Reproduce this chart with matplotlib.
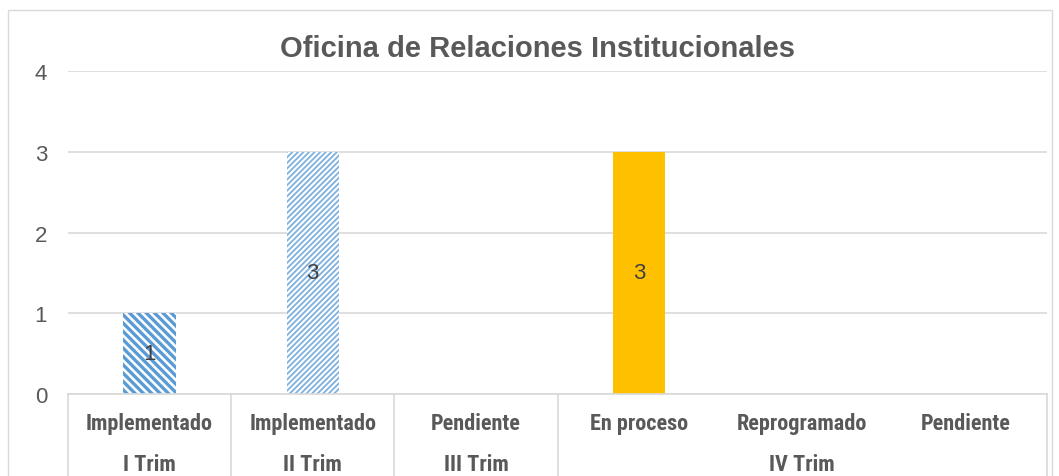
import matplotlib
matplotlib.use("Agg")
import matplotlib.pyplot as plt
from matplotlib.patches import Rectangle
from matplotlib.lines import Line2D

categories = ["Implementado", "Implementado", "Pendiente", "En proceso", "Reprogramado", "Pendiente"]
groups = ["I Trim", "II Trim", "III Trim", "IV Trim"]
group_spans = [(0, 0), (1, 1), (2, 2), (3, 5)]
values = [1, 3, 0, 3, 0, 0]
title = "Oficina de Relaciones Institucionales"

W, H = 1059, 477
fig = plt.figure(figsize=(W / 100, H / 100), dpi=100)
fig.patch.set_facecolor("white")

narrow = ["Roboto Condensed", "DejaVu Sans"]
sans = ["Liberation Sans", "DejaVu Sans"]

fig.patches.append(Rectangle((8 / W, -0.05), (1052 - 8) / W, (H - 11) / H + 0.05,
                             transform=fig.transFigure, fill=False,
                             edgecolor="#D9D9D9", linewidth=1.0))

x0, x1 = 68, 1047
ytop, ybot = 72, 395
ax = fig.add_axes([x0 / W, (H - ybot) / H, (x1 - x0) / W, (ybot - ytop) / H])
ax.set_xlim(-0.5, len(categories) - 0.5)
ax.set_ylim(0, 4)
ax.set_yticks([0, 1, 2, 3, 4])
ax.grid(axis="y", color="#D9D9D9", linewidth=1.2)
ax.set_axisbelow(True)
for s in ["top", "right", "left"]:
    ax.spines[s].set_visible(False)
ax.spines["bottom"].set_color("#D9D9D9")
ax.spines["bottom"].set_linewidth(1.2)
ax.tick_params(axis="y", length=0, pad=15, labelsize=16, labelcolor="#595959")
ax.tick_params(axis="x", length=0, labelbottom=False)
for t in ax.get_yticklabels():
    t.set_family(sans)

xs = list(range(len(categories)))
bw = 0.32
bars = ax.bar(xs, values, width=bw, color="white", edgecolor="none", linewidth=0)
styles = [
    dict(face="white", hatch="\\\\\\\\", ec="#5B9BD5", hlw=2.4),
    dict(face="white", hatch="//////", ec="#7EB0E0", hlw=1.3),
    dict(face="white", hatch=None, ec="none", hlw=1),
    dict(face="#FFC000", hatch=None, ec="none", hlw=1),
    dict(face="white", hatch=None, ec="none", hlw=1),
    dict(face="white", hatch=None, ec="none", hlw=1),
]
for b, st in zip(bars, styles):
    b.set_facecolor(st["face"])
    if st["hatch"]:
        b.set_hatch(st["hatch"])
        b.set_edgecolor(st["ec"])
        b.set_linewidth(0)
        if hasattr(b, "set_hatch_linewidth"):
            b.set_hatch_linewidth(st["hlw"])

for x, v in zip(xs, values):
    if v > 0:
        ax.text(x, v / 2, str(v), ha="center", va="center", fontsize=16,
                color="#404040", family=sans)

fig.text(537 / W, 1 - 49 / H, title, ha="center", va="center", fontsize=21,
         fontweight="bold", color="#595959", family=sans)

catw = (x1 - x0) / len(categories)
for i, c in enumerate(categories):
    cx = x0 + catw * (i + 0.5)
    fig.text(cx / W, 1 - 424 / H, c, ha="center", va="center", fontsize=16,
             fontweight="bold", color="#595959", family=narrow)
for g, (a, b) in zip(groups, group_spans):
    cx = x0 + catw * ((a + b) / 2 + 0.5)
    fig.text(cx / W, 1 - 465 / H, g, ha="center", va="center", fontsize=16,
             fontweight="bold", color="#595959", family=narrow)

seps = [0, 1, 2, 3, 6]
for s in seps:
    xp = (x0 + catw * s) / W
    fig.add_artist(Line2D([xp, xp], [0, (H - ybot) / H], transform=fig.transFigure,
                          color="#D9D9D9", linewidth=1.2))

fig.savefig("out.png", dpi=100)
